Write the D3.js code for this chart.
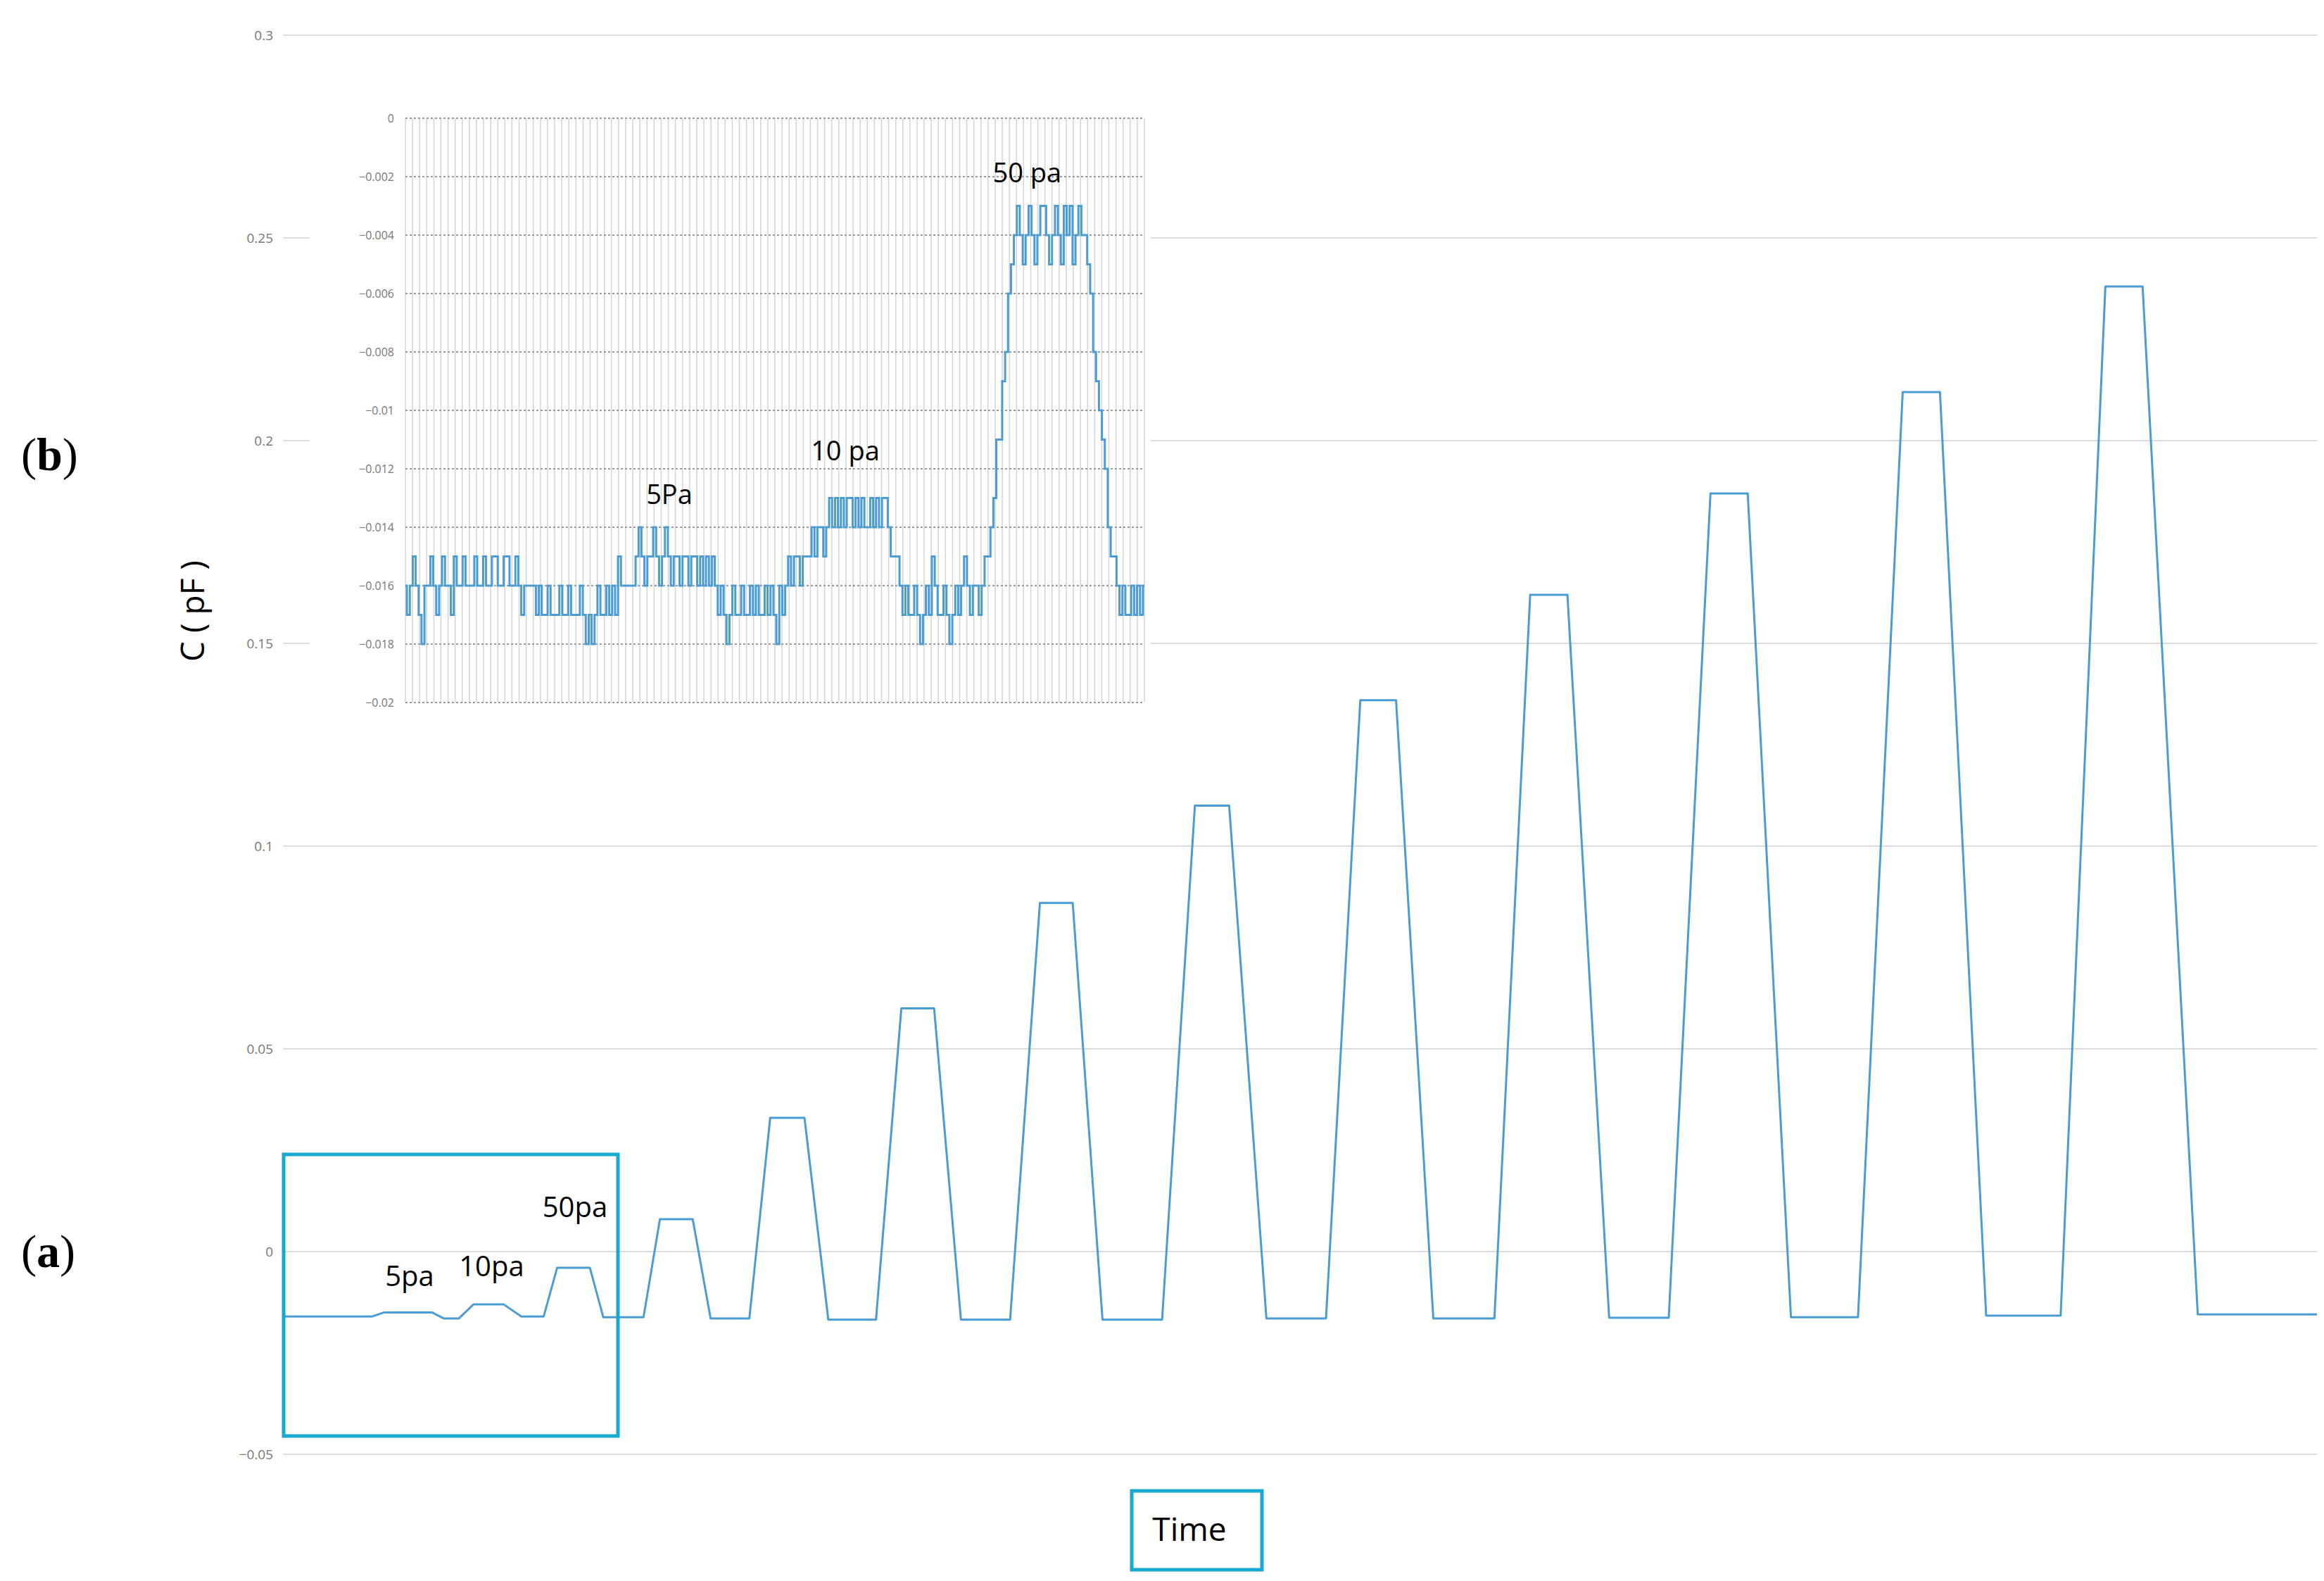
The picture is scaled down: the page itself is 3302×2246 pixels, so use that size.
<!DOCTYPE html>
<html>
<head>
<meta charset="utf-8">
<script src="https://cdn.jsdelivr.net/npm/d3@7"></script>
<style>
  body { margin: 0; background: #fff; }
</style>
</head>
<body>
<div class="chart"></div>
<script>
const width = 3302,
  height = 2246;

// main chart: y ticks
const mainTicks = [-0.05, 0, 0.05, 0.1, 0.15, 0.2, 0.25, 0.3];

// pulses: [rise start, top start, top end, fall end] in time units, and plateau value
const pulseTimes = [
  [60, 68, 100, 108],
  [118, 128, 148, 160],
  [175, 184, 206, 215],
  [242, 253, 275, 287],
  [313, 327, 350, 366],
  [398, 415, 437, 455],
  [488, 508, 530, 550],
  [590, 612, 635, 660],
  [700, 723, 747, 772],
  [813, 837, 862, 890],
  [930, 958, 983, 1012],
  [1057, 1087, 1112, 1143],
  [1193, 1223, 1248, 1285]
];
const pulseValues = [-0.015, -0.013, -0.004, 0.008, 0.033, 0.06, 0.086, 0.11, 0.136, 0.162, 0.187, 0.212, 0.238];
const baseValues = [-0.016, -0.0165, -0.016, -0.0162, -0.0165, -0.0168, -0.0168, -0.0168, -0.0165, -0.0165, -0.0163, -0.0162, -0.0158, -0.0155];
const timeEnd = 1365;

// inset: values in units of -0.001 pF, read left to right
const insetValues = [
  16,17,16,15,16,17,18,16,16,15,16,17,16,15,16,16,17,15,16,16,15,16,16,16,15,16,16,15,16,16,15,15,16,16,15,15,16,16,15,16,17,16,16,16,16,
  17,16,17,17,16,17,17,17,16,17,17,16,17,17,17,16,17,18,17,18,17,16,17,17,16,17,16,17,15,16,
  16,16,16,16,
  15,14,15,16,15,15,14,15,16,15,14,15,16,15,15,16,15,15,16,15,15,16,15,16,15,16,15,16,
  17,16,17,18,17,16,17,17,16,17,17,16,17,16,17,17,16,17,16,17,18,16,17,16,
  15,16,15,15,16,15,15,15,
  14,15,14,14,15,14,
  13,14,13,14,13,14,13,13,14,13,14,13,14,14,13,14,13,14,13,13,
  14,15,15,15,
  16,17,16,17,17,16,17,18,17,16,17,15,16,17,17,16,17,18,17,16,17,16,15,16,17,16,16,17,
  16,15,15,
  14,13,11,11,9,8,6,5,
  4,3,4,5,4,3,4,5,4,3,3,4,5,4,3,4,5,3,4,3,5,4,3,4,
  4,5,6,8,9,10,11,12,14,15,15,
  16,17,16,17,17,16,17,16,17,16
];
const insetTicks = [0, -0.002, -0.004, -0.006, -0.008, -0.01, -0.012, -0.014, -0.016, -0.018, -0.02];
const insetColumns = 104;

const lineColor = "#4b9cd3";
const boxColor = "#19a8d0";

// build main series from pulse keypoints
const mainData = [{ t: 0, v: baseValues[0] }];
pulseTimes.forEach((p, i) => {
  mainData.push({ t: p[0], v: baseValues[i] });
  mainData.push({ t: p[1], v: pulseValues[i] });
  mainData.push({ t: p[2], v: pulseValues[i] });
  mainData.push({ t: p[3], v: baseValues[i + 1] });
});
mainData.push({ t: timeEnd, v: baseValues[baseValues.length - 1] });

const svg = d3
  .select(".chart")
  .append("svg")
  .attr("width", width)
  .attr("height", height);

const x = d3.scaleLinear().domain([0, timeEnd]).range([402, 3292]);
const y = d3.scaleLinear().domain([-0.05, 0.3]).range([2066, 50]);

// main grid
svg
  .append("g")
  .selectAll("line")
  .data(mainTicks)
  .enter()
  .append("line")
  .attr("x1", 402)
  .attr("x2", 3292)
  .attr("y1", (d) => y(d))
  .attr("y2", (d) => y(d))
  .attr("stroke", "#dcdcdc")
  .attr("stroke-width", 2);

svg
  .append("g")
  .selectAll("text")
  .data(mainTicks)
  .enter()
  .append("text")
  .attr("x", 388)
  .attr("y", (d) => y(d) + 7)
  .attr("text-anchor", "end")
  .style("font-family", "Open Sans")
  .style("font-size", "19px")
  .style("fill", "#777")
  .text((d) => d3.format("")(d));

svg
  .append("path")
  .datum(mainData)
  .attr("fill", "none")
  .attr("stroke", lineColor)
  .attr("stroke-width", 3)
  .attr("stroke-linejoin", "round")
  .attr("d", d3.line().x((d) => x(d.t)).y((d) => y(d.v)));

// main labels
const mainLabels = [
  { text: "5pa", t: 85, v: -0.0085 },
  { text: "10pa", t: 140, v: -0.006 },
  { text: "50pa", t: 196, v: 0.0085 }
];
svg
  .selectAll(".mlab")
  .data(mainLabels)
  .enter()
  .append("text")
  .attr("x", (d) => x(d.t))
  .attr("y", (d) => y(d.v))
  .attr("text-anchor", "middle")
  .style("font-family", "Open Sans")
  .style("font-size", "40px")
  .text((d) => d.text);

// highlight box
svg
  .append("rect")
  .attr("x", 403)
  .attr("y", 1640)
  .attr("width", 475)
  .attr("height", 400)
  .attr("fill", "none")
  .attr("stroke", boxColor)
  .attr("stroke-width", 5);

// axis title
svg
  .append("text")
  .attr("transform", "translate(290,868) rotate(-90)")
  .attr("text-anchor", "middle")
  .style("font-family", "Open Sans")
  .style("font-size", "46px")
  .text("C ( pF )");

svg
  .append("rect")
  .attr("x", 1608)
  .attr("y", 2118)
  .attr("width", 185)
  .attr("height", 112)
  .attr("fill", "none")
  .attr("stroke", boxColor)
  .attr("stroke-width", 5);
svg
  .append("text")
  .attr("x", 1690)
  .attr("y", 2189)
  .attr("text-anchor", "middle")
  .style("font-family", "Open Sans")
  .style("font-size", "46px")
  .text("Time");

// panel letters
[["(", "b", ")", 668], ["(", "a", ")", 1800]].forEach((p) => {
  const t = svg
    .append("text")
    .attr("x", 30)
    .attr("y", p[3])
    .style("font-family", "Liberation Serif")
    .style("font-size", "66px");
  t.append("tspan").text(p[0]);
  t.append("tspan").style("font-weight", 700).text(p[1]);
  t.append("tspan").text(p[2]);
});

// inset
const ix = d3.scaleLinear().domain([0, insetValues.length - 1]).range([576, 1626]);
const iy = d3.scaleLinear().domain([-0.02, 0]).range([998, 168]);

svg
  .append("rect")
  .attr("x", 440)
  .attr("y", 150)
  .attr("width", 1195)
  .attr("height", 870)
  .attr("fill", "#fff");

svg
  .append("g")
  .selectAll("line")
  .data(d3.range(insetColumns + 1))
  .enter()
  .append("line")
  .attr("x1", (d) => 576 + (d * 1050) / insetColumns)
  .attr("x2", (d) => 576 + (d * 1050) / insetColumns)
  .attr("y1", 168)
  .attr("y2", 998)
  .attr("stroke", "#d4d4d4")
  .attr("stroke-width", 1.5);

svg
  .append("g")
  .selectAll("line")
  .data(insetTicks)
  .enter()
  .append("line")
  .attr("x1", 576)
  .attr("x2", 1626)
  .attr("y1", (d) => iy(d))
  .attr("y2", (d) => iy(d))
  .attr("stroke", "#9a9a9a")
  .attr("stroke-width", 2)
  .attr("stroke-dasharray", "3,3");

svg
  .append("g")
  .selectAll("text")
  .data(insetTicks)
  .enter()
  .append("text")
  .attr("x", 560)
  .attr("y", (d) => iy(d) + 6)
  .attr("text-anchor", "end")
  .style("font-family", "Open Sans")
  .style("font-size", "16px")
  .style("fill", "#777")
  .text((d) => d3.format("")(d));

svg
  .append("path")
  .datum(insetValues)
  .attr("fill", "none")
  .attr("stroke", lineColor)
  .attr("stroke-width", 3)
  .attr("d", d3.line().curve(d3.curveStep).x((d, i) => ix(i)).y((d) => iy(-d / 1000)));

const insetLabels = [
  { text: "5Pa", i: 90, v: -0.0132 },
  { text: "10 pa", i: 150, v: -0.0117 },
  { text: "50 pa", i: 212, v: -0.0022 }
];
svg
  .selectAll(".ilab")
  .data(insetLabels)
  .enter()
  .append("text")
  .attr("x", (d) => ix(d.i))
  .attr("y", (d) => iy(d.v))
  .attr("text-anchor", "middle")
  .style("font-family", "Open Sans")
  .style("font-size", "38px")
  .text((d) => d.text);
</script>
</body>
</html>
